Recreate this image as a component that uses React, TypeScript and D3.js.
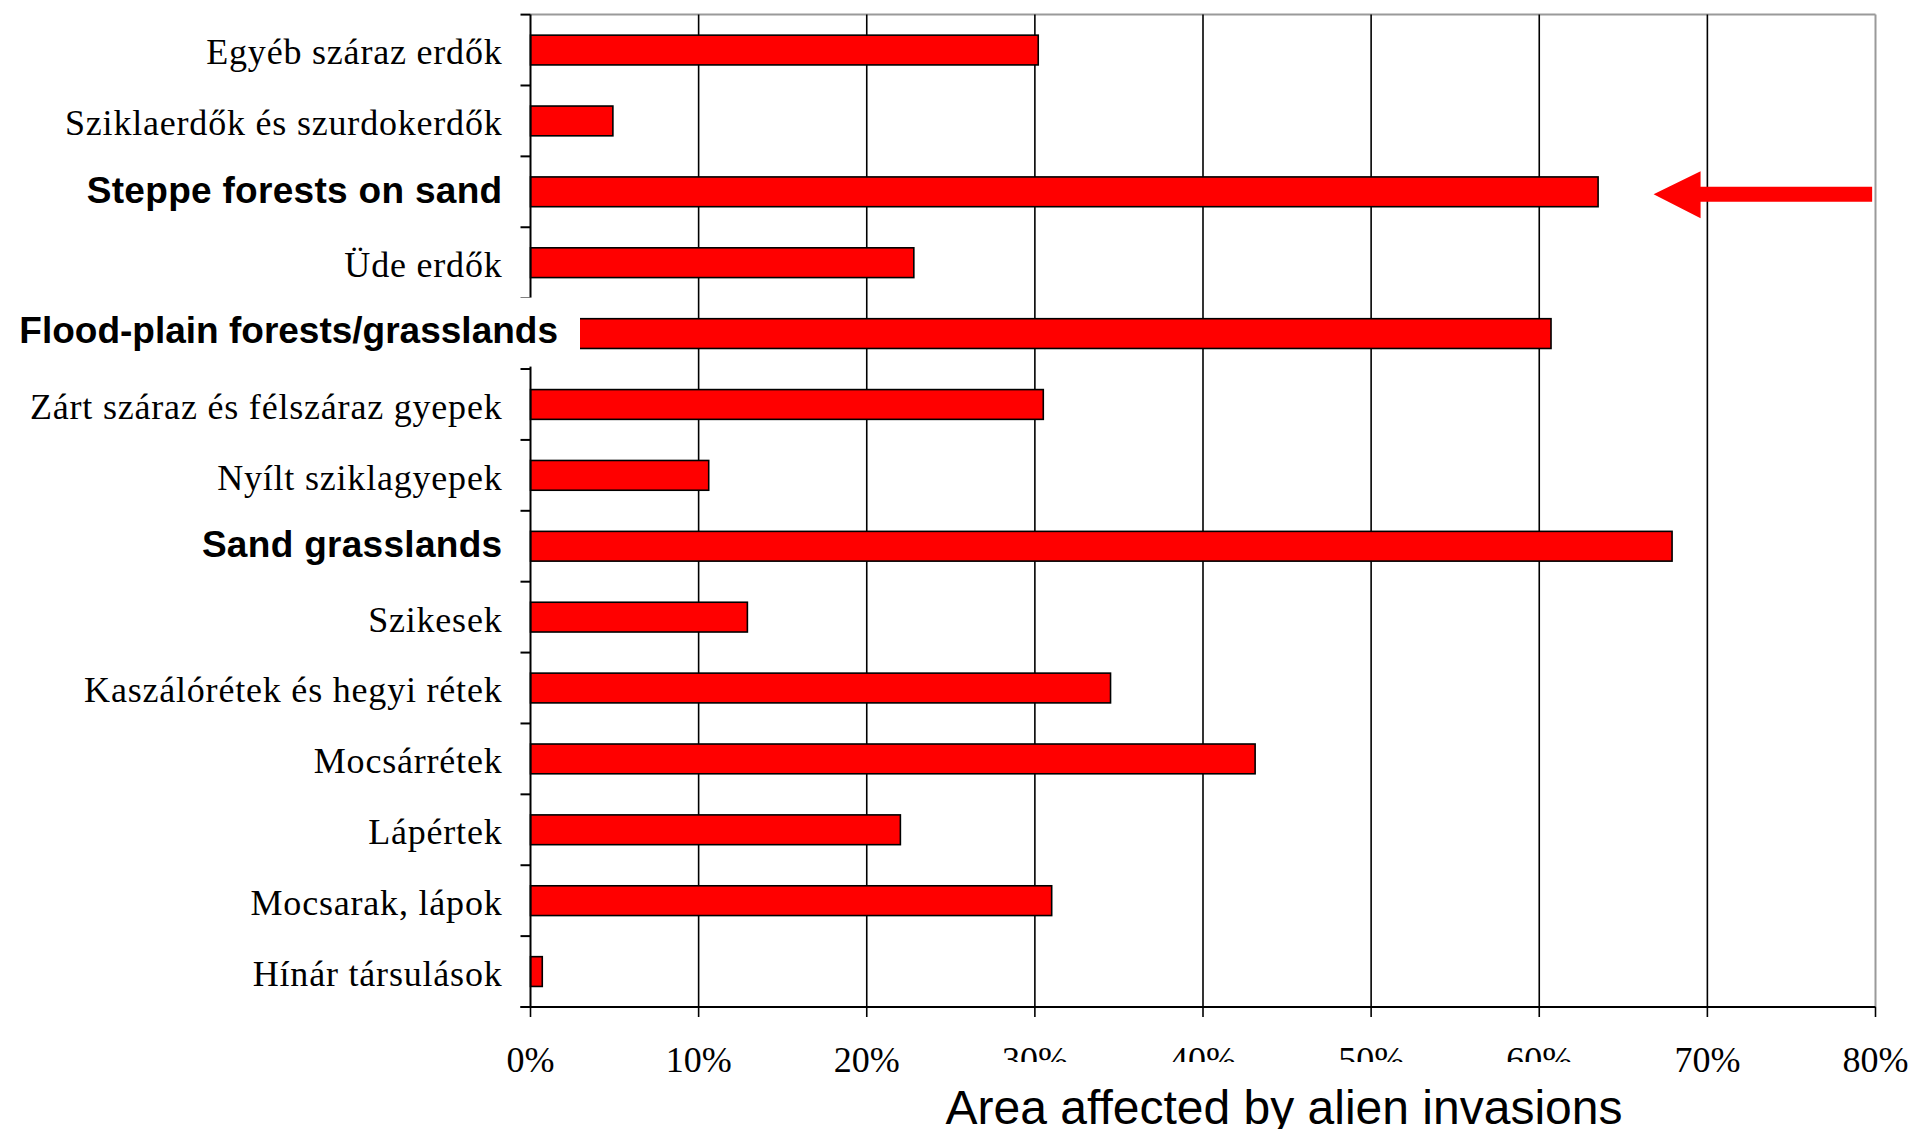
import React from "react";
import * as d3 from "d3";

const categories = [
  "Egyéb száraz erdők",
  "Sziklaerdők és szurdokerdők",
  "Steppe forests on sand",
  "Üde erdők",
  "Flood-plain forests/grasslands",
  "Zárt száraz és félszáraz gyepek",
  "Nyílt sziklagyepek",
  "Sand grasslands",
  "Szikesek",
  "Kaszálórétek és hegyi rétek",
  "Mocsárrétek",
  "Lápértek",
  "Mocsarak, lápok",
  "Hínár társulások",
];
const values = [0.302, 0.049, 0.635, 0.228, 0.607, 0.305, 0.106, 0.679, 0.129, 0.345, 0.431, 0.22, 0.31, 0.007];
const highlighted = ["Steppe forests on sand", "Flood-plain forests/grasslands", "Sand grasslands"];
const xTicks = [0, 0.1, 0.2, 0.3, 0.4, 0.5, 0.6, 0.7, 0.8];
const xTitle = "Area affected by alien invasions";
const arrowTarget = "Steppe forests on sand";
const arrowFrom = 0.798;
const arrowTo = 0.668;

const W = 1912;
const H = 1129;
const left = 530.5;
const right = 1875.5;
const top = 14.6;
const bottom = 1007;

export default function App() {
  const x = d3.scaleLinear().domain([0, 0.8]).range([left, right]);
  const y = d3
    .scaleBand<string>()
    .domain(categories)
    .range([top, bottom])
    .paddingInner(0.58)
    .paddingOuter(0.29);
  const step = y.step();
  const boundaries = d3.range(categories.length + 1).map((i) => top + i * step);
  const fmt = d3.format(".0%");
  const serif = "'Liberation Serif', 'Times New Roman', serif";
  const sans = "'Liberation Sans', Arial, sans-serif";

  const flood = "Flood-plain forests/grasslands";
  const floodY = (y(flood) ?? 0) + y.bandwidth() / 2;

  const arrowY = (y(arrowTarget) ?? 0) + y.bandwidth() / 2 + 2.5;
  const xTip = x(arrowTo);
  const xEnd = x(arrowFrom);
  const headBack = xTip + 47;
  const arrowPath = `M${xTip},${arrowY} L${headBack},${arrowY - 23} L${headBack},${arrowY - 7.5} L${xEnd},${arrowY - 7.5} L${xEnd},${arrowY + 7.5} L${headBack},${arrowY + 7.5} L${headBack},${arrowY + 24} Z`;

  return (
    <svg
      width={W}
      height={H}
      style={{ position: "absolute", left: 0, top: 0, background: "#fff" }}
      viewBox={`0 0 ${W} ${H}`}
    >
      <rect x={0} y={0} width={W} height={H} fill="#fff" />
      {/* top and right border */}
      <line x1={left} x2={right} y1={top} y2={top} stroke="#9a9a9a" strokeWidth={2} />
      <line x1={right} x2={right} y1={top} y2={bottom} stroke="#9a9a9a" strokeWidth={2} />
      {/* gridlines */}
      {xTicks.slice(1, -1).map((t) => (
        <line key={"g" + t} x1={x(t)} x2={x(t)} y1={top} y2={bottom} stroke="#000" strokeWidth={1.6} />
      ))}
      {/* x ticks */}
      {xTicks.map((t) => (
        <line key={"xt" + t} x1={x(t)} x2={x(t)} y1={bottom} y2={bottom + 10} stroke="#000" strokeWidth={1.6} />
      ))}
      {/* bars */}
      {categories.map((c, i) => (
        <rect
          key={c}
          x={x(0)}
          y={y(c)}
          width={x(values[i]) - x(0)}
          height={y.bandwidth()}
          fill="#ff0000"
          stroke="#000"
          strokeWidth={1.6}
        />
      ))}
      {/* axes */}
      <line x1={left} x2={left} y1={top} y2={bottom} stroke="#000" strokeWidth={2} />
      <line x1={left - 10} x2={right} y1={bottom} y2={bottom} stroke="#000" strokeWidth={2} />
      {boundaries.map((b, i) => (
        <line key={"yt" + i} x1={left - 10} x2={left} y1={b} y2={b} stroke="#000" strokeWidth={2} />
      ))}
      {/* category labels */}
      {categories.map((c) => {
        const cy = (y(c) ?? 0) + y.bandwidth() / 2;
        if (c === flood) return null;
        const bold = highlighted.includes(c);
        return (
          <text
            key={"l" + c}
            x={left - 28}
            y={cy}
            dy={bold ? "0.3em" : "0.4em"}
            textAnchor="end"
            fontFamily={bold ? sans : serif}
            fontWeight={bold ? 700 : 400}
            fontSize={bold ? 37 : 36}
            letterSpacing={bold ? 0.3 : 0.8}
            fill="#000"
          >
            {c}
          </text>
        );
      })}
      {/* flood-plain label box covering axis */}
      <rect x={8} y={floodY - 36} width={580 - 8} height={69} fill="#fff" />
      <text
        x={558}
        y={floodY}
        dy="0.25em"
        textAnchor="end"
        fontFamily={sans}
        fontWeight={700}
        fontSize={37}
        fill="#000"
      >
        {flood}
      </text>
      {/* x tick labels */}
      {xTicks.map((t) => (
        <text
          key={"xl" + t}
          x={x(t)}
          y={1072}
          textAnchor="middle"
          fontFamily={serif}
          fontSize={36}
          fill="#000"
        >
          {fmt(t)}
        </text>
      ))}
      {/* title with white box */}
      <rect x={935} y={1062} width={700} height={H - 1062} fill="#fff" />
      <text
        x={1284}
        y={1124}
        textAnchor="middle"
        fontFamily={sans}
        fontSize={48}
        fill="#000"
      >
        {xTitle}
      </text>
      {/* arrow annotation */}
      <path d={arrowPath} fill="#ff0000" />
    </svg>
  );
}
